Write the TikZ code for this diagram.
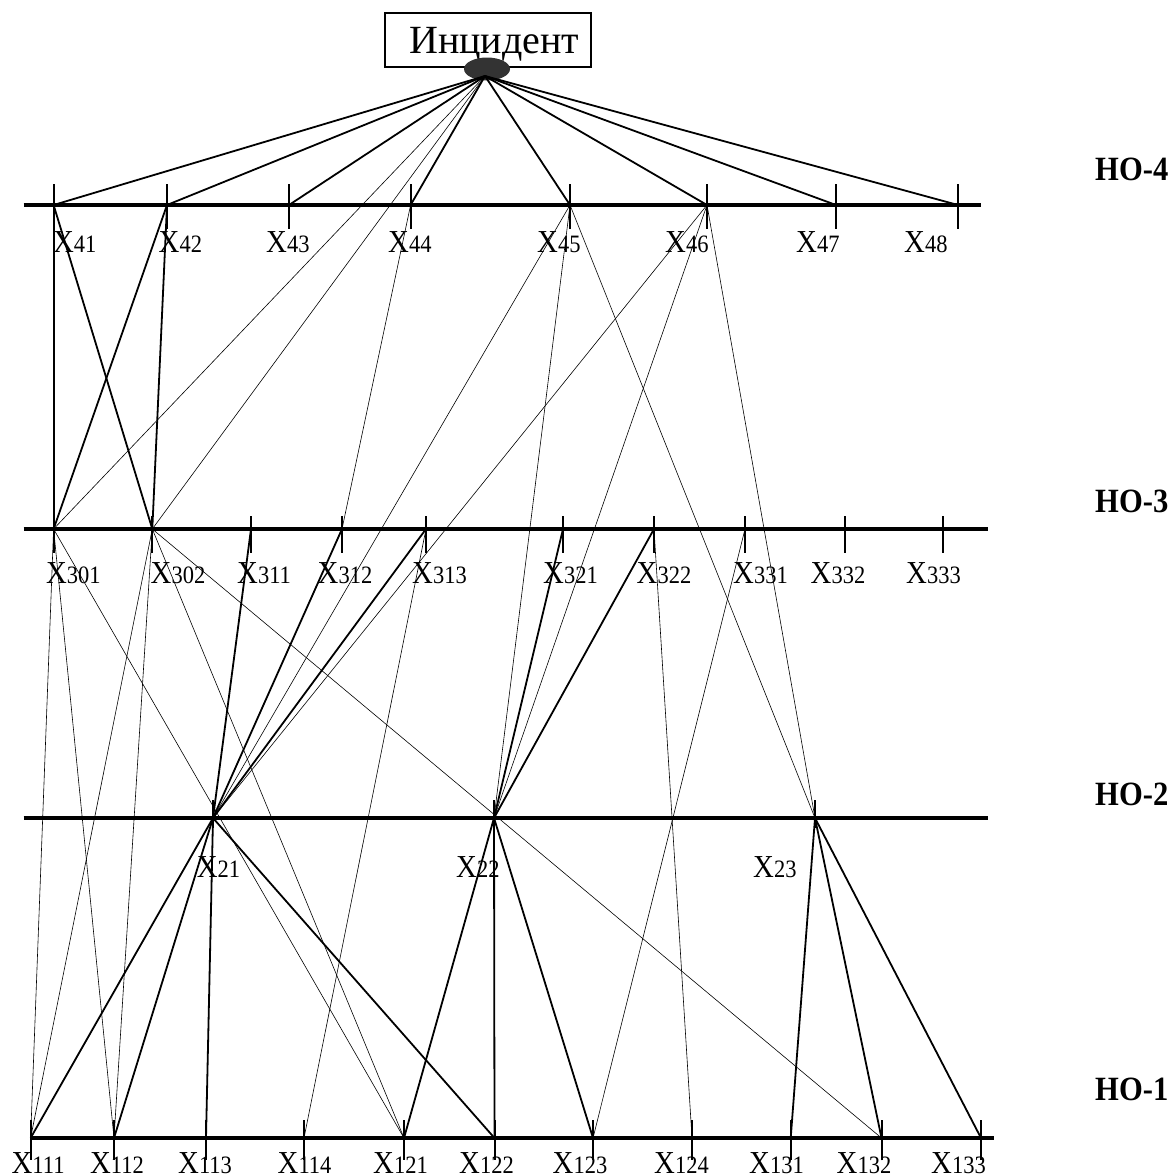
\documentclass[tikz,border=0pt]{standalone}
\usepackage{fontspec}
\setmainfont{Liberation Serif}
\newfontfamily\lblfont[FakeStretch=0.9]{Liberation Serif}
\usetikzlibrary{shapes.geometric}

% variable label: large X with smaller index digits on the same baseline
\newcommand\xlab[1]{{\lblfont\fontsize{32}{32}\selectfont X\fontsize{25}{25}\selectfont #1}}

\begin{document}
\begin{tikzpicture}[x=1pt,y=-1pt,
  levelaxis/.style={line width=4.5pt},
  tickmark/.style={line width=2pt},
  strong/.style={line width=1.8pt},
  weak/.style={line width=0.6pt},
  lbl/.style={anchor=base west, inner sep=0pt},
  levelname/.style={anchor=base west, inner sep=0pt,
    font=\lblfont\bfseries\fontsize{34}{34}\selectfont}]

\useasboundingbox (0,0) rectangle (1174,1173);

% ---- top event ----
\node[draw, line width=1.6pt, minimum width=206pt, minimum height=54pt, inner sep=0pt]
  (box) at (488,40) {};
\node[anchor=base west, inner sep=0pt, font=\fontsize{40}{40}\selectfont]
  (inctext) at (409,53) {Инцидент};
\node[ellipse, fill=black!80, minimum width=46pt, minimum height=23pt, inner sep=0pt]
  (inc) at (487,69) {};
\coordinate (hub) at (485,76);

% ---- level axes ----
\draw[levelaxis] (23.7,205) -- (981,205);
\draw[levelaxis] (23.7,529) -- (987.7,529);
\draw[levelaxis] (23.7,818) -- (987.7,818);
\draw[levelaxis] (30,1138) -- (993.7,1138);

% ---- level 4 ----
\foreach \n/\x/\lx in {41/53.6/53, 42/167/158.5, 43/289/266, 44/410.6/388,
                       45/570/537, 46/707/665, 47/836/796, 48/958/904} {
  \coordinate (x\n) at (\x,205);
  \draw[tickmark] ([yshift=21pt]x\n) -- ([yshift=-24pt]x\n);
  \node[lbl] (l\n) at (\lx,252) {\xlab{\n}};
}

% ---- level 3 ----
\foreach \n/\x/\lx in {301/53.6/46, 302/152.3/150.5, 311/251/237, 312/342/317.5,
                       313/426/412, 321/563/543, 322/654/636.5, 331/745/733,
                       332/844.5/810.5, 333/943/906} {
  \coordinate (x\n) at (\x,529);
  \draw[tickmark] ([yshift=13pt]x\n) -- ([yshift=-24pt]x\n);
  \node[lbl] (l\n) at (\lx,583) {\xlab{\n}};
}

% ---- level 2 ----
\foreach \n/\x/\lx in {21/213/196.7, 22/494/456, 23/815/753} {
  \coordinate (x\n) at (\x,818);
  \draw[tickmark] ([yshift=18pt]x\n) -- ([yshift=-10pt]x\n);
  \node[lbl] (l\n) at (\lx,877) {\xlab{\n}};
}

% ---- level 1 ----
\foreach \n/\x/\lx in {111/30.6/11.5, 112/114/90, 113/206/178, 114/304/277.5,
                       121/404/373, 122/494.5/459, 123/593/552.5, 124/692/654,
                       131/790.7/749, 132/881.5/836.5, 133/981/931} {
  \coordinate (x\n) at (\x,1138);
  \draw[tickmark] ([yshift=18pt]x\n) -- ([yshift=-22pt]x\n);
  \node[lbl] (l\n) at (\lx,1173) {\xlab{\n}};
}

% ---- level names ----
\node[levelname] (ho4) at (1095,180) {НО-4};
\node[levelname] (ho3) at (1095,512) {НО-3};
\node[levelname] (ho2) at (1095,805) {НО-2};
\node[levelname] (ho1) at (1095,1100) {НО-1};

% ---- strong links ----
\foreach \t in {41,42,43,44,45,46,47,48} \draw[strong] (hub) -- (x\t);
\draw[strong] (x41) -- (x301);
\draw[strong] (x41) -- (x302);
\draw[strong] (x42) -- (x301);
\draw[strong] (x42) -- (x302);
\foreach \s in {311,312,313} \draw[strong] (x\s) -- (x21);
\foreach \s in {321,322} \draw[strong] (x\s) -- (x22);
\foreach \t in {111,112,113,122} \draw[strong] (x21) -- (x\t);
\foreach \t in {121,122,123} \draw[strong] (x22) -- (x\t);
\foreach \t in {131,132,133} \draw[strong] (x23) -- (x\t);

% ---- weak links ----
\draw[weak] (hub) -- (x301);
\draw[weak] (hub) -- (x302);
\draw[weak] (x44) -- (x312);
\foreach \t in {21,22,23} {
  \draw[weak] (x45) -- (x\t);
  \draw[weak] (x46) -- (x\t);
}
\foreach \t in {111,112,121} {
  \draw[weak] (x301) -- (x\t);
  \draw[weak] (x302) -- (x\t);
}
\draw[weak] (x302) -- (x132);
\draw[weak] (x313) -- (x114);
\draw[weak] (x322) -- (x124);
\draw[weak] (x331) -- (x123);

\end{tikzpicture}
\end{document}
